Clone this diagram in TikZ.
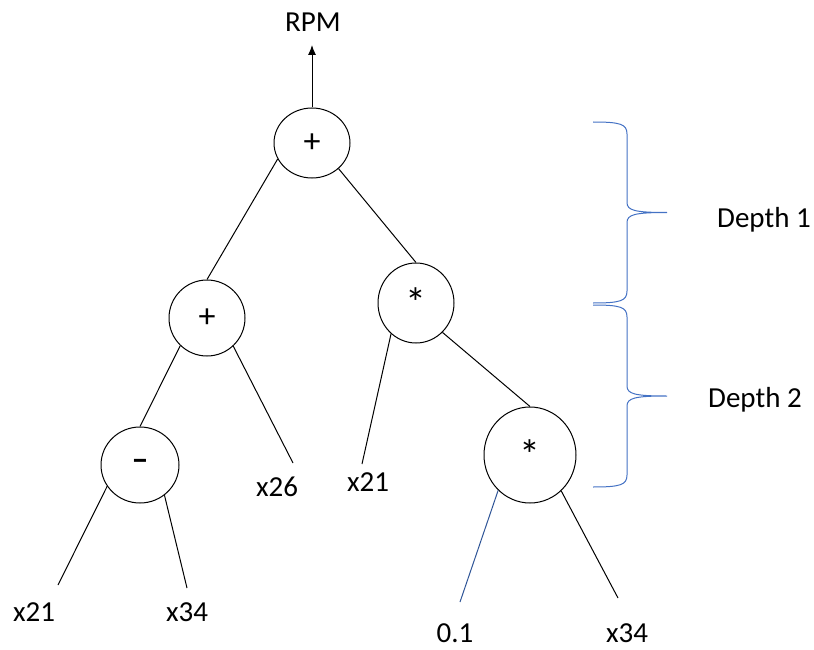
\documentclass[tikz,border=0pt]{standalone}
\usepackage{fontspec}
\setmainfont{Carlito}
\usetikzlibrary{arrows.meta,shapes.geometric}
\definecolor{braceblue}{RGB}{68,114,196}
\definecolor{lineblue}{RGB}{47,85,151}

\begin{document}
\begin{tikzpicture}[x=1pt,y=-1pt,
  every node/.style={font=\fontsize{29}{34}\selectfont},
  op/.style={draw,ellipse,line width=1pt,inner sep=0pt,minimum width=76pt,minimum height=76pt,
    font=\fontsize{34}{40}\selectfont},
  mulop/.style={op,font=\fontsize{42}{46}\selectfont},
  branch/.style={line width=1pt},
  brace/.style={line width=1pt,braceblue}]
  \useasboundingbox (0,0) rectangle (814,650);
  % operator nodes
  \node[op,minimum height=70pt] (root) at (312,143) {+};
  \node[op] (lplus) at (207,318) {+};
  \node[mulop,minimum height=80pt] (rmul) at (416,303) {*};
  \node[op,minimum width=78pt,font=\fontsize{34}{40}\selectfont\bfseries] (minus) at (140,465) {--};
  \node[mulop,minimum width=92pt,minimum height=96pt] (bmul) at (530,455) {*};
  % output
  \node (rpm) at (313,22) {RPM};
  \coordinate (rpmtip) at (312,45);
  \draw[branch,-{Latex[length=10pt,width=8pt]}] (root.north) -- (rpmtip);
  % leaves
  \node (x21a) at (34,612) {x21};
  \node (x34a) at (187,612) {x34};
  \node (x26) at (277,487) {x26};
  \node (x21b) at (368,482) {x21};
  \node (c01) at (455,633) {0.1};
  \node (x34b) at (627,633) {x34};
  \coordinate (e21a) at (58,585);
  \coordinate (e34a) at (187,588);
  \coordinate (e26) at (293,463);
  \coordinate (e21b) at (362,464);
  \coordinate (e01) at (460,602);
  \coordinate (e34b) at (618,598);
  % branches
  \draw[branch] (root.205) -- (lplus.north);
  \draw[branch] (root.316) -- (rmul.north);
  \draw[branch] (lplus.226) -- (minus.north);
  \draw[branch] (lplus.313) -- (e26);
  \draw[branch] (minus.213) -- (e21a);
  \draw[branch] (minus.309) -- (e34a);
  \draw[branch] (rmul.231) -- (e21b);
  \draw[branch] (rmul.312) -- (bmul.north);
  \draw[branch,lineblue] (bmul.228) -- (e01);
  \draw[branch] (bmul.311) -- (e34b);
  % depth braces
  \foreach \ya/\yb in {122/303,305/487}{
    \pgfmathsetmacro\ym{(\ya+\yb)/2}
    \draw[brace] (593,\ya) .. controls (620,\ya) and (627,\ya+2) .. (627,\ya+12)
      -- (627,\ym-10) .. controls (627,\ym-2) and (635,\ym) .. (667,\ym)
      .. controls (635,\ym) and (627,\ym+2) .. (627,\ym+10)
      -- (627,\yb-12) .. controls (627,\yb-2) and (620,\yb) .. (593,\yb);
  }
  \node (d1) at (764,220) {Depth 1};
  \node (d2) at (755,400) {Depth 2};
\end{tikzpicture}
\end{document}
